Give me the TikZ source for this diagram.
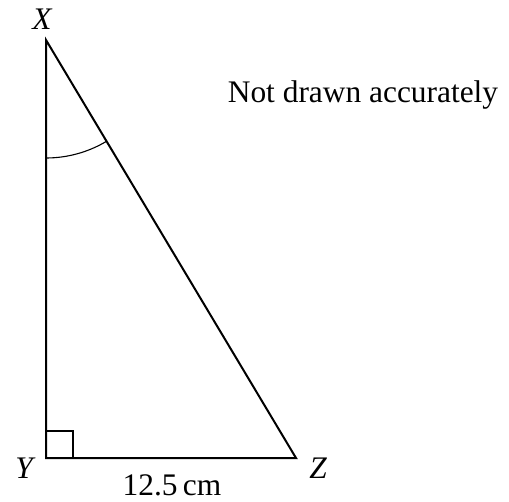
\documentclass[tikz,border=0pt]{standalone}
\usepackage{fontspec}
\setmainfont{Liberation Serif}
\usetikzlibrary{calc,angles}
\begin{document}
\begin{tikzpicture}[x=0.5pt,y=-0.5pt,
  side/.style={line width=1pt},
  thin mark/.style={line width=0.55pt},
  lbl/.style={font=\fontsize{15.7}{18}\selectfont, anchor=base, inner sep=0pt}]
\useasboundingbox (0,0) rectangle (509,502);
\coordinate (X) at (46,40);
\coordinate (Y) at (46,458);
\coordinate (Z) at (296,458);
\draw[side, line join=miter] (X) -- (Y) -- (Z) -- cycle;
\draw[thin mark] ($(Y)+(0,-27)$) -| ($(Y)+(27,0)$);
\pic[draw, thin mark, angle radius=59pt] {angle = Y--X--Z};
\node[lbl] (lx) at (42,30) {\itshape X};
\node[lbl] (ly) at (24,478) {\itshape Y};
\node[lbl] (lz) at (318,478) {\itshape Z};
\node[lbl] (len) at (172,495) {12.5\,cm};
\node[lbl] (note) at (363,103) {Not drawn accurately};
\end{tikzpicture}
\end{document}
